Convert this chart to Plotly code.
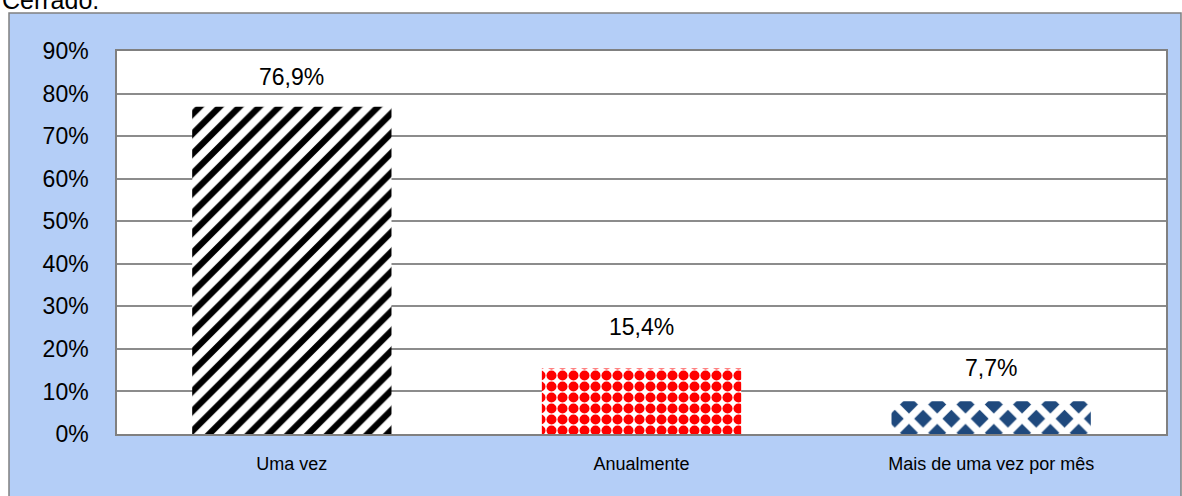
import plotly.graph_objects as go

categories = ["Uma vez", "Anualmente", "Mais de uma vez por mês"]
values = [76.9, 15.4, 7.7]
y_ticks = [0, 10, 20, 30, 40, 50, 60, 70, 80, 90]
y_tick_labels = [f"{t}%" for t in y_ticks]
value_labels = [f"{v:.1f}".replace(".", ",") + "%" for v in values]

# style
label_offsets = [30, 41, 33]  # px above bar top (label centers)
FONT = "Liberation Sans, Arial, sans-serif"

W, H = 1182, 496
L, R, T, B = 117, 16, 51, 62
pw, ph = W - L - R, H - T - B

def px_x(x):
    return (x - L) / pw

def px_y(y):
    return (H - B - y) / ph

fig = go.Figure()

patterns = [
    dict(shape="/", fgcolor="black", bgcolor="white", size=14, solidity=0.45, fgopacity=1, fillmode="replace"),
    dict(shape=".", fgcolor="#FF0000", bgcolor="white", size=11, solidity=0.65, fgopacity=1, fillmode="replace"),
    dict(shape="x", fgcolor="white", bgcolor="#1F497D", size=20, solidity=0.6, fgopacity=1, fillmode="replace"),
]

for i, (c, v) in enumerate(zip(categories, values)):
    fig.add_trace(go.Bar(
        x=[c], y=[v],
        marker=dict(color="white", pattern=patterns[i], line=dict(width=0)),
        width=0.57,
        showlegend=False,
        hoverinfo="skip",
    ))

for c, v, t, off in zip(categories, values, value_labels, label_offsets):
    fig.add_annotation(x=c, y=v, xref="x", yref="y", text=t, showarrow=False,
                       yanchor="middle", yshift=off,
                       font=dict(family=FONT, size=23, color="black"))

# Cut-off caption at top (as in the reference)
fig.add_annotation(x=px_x(0), y=px_y(16), xref="paper", yref="paper", text="Cerrado.",
                   showarrow=False, xanchor="left", yanchor="bottom",
                   font=dict(family=FONT, size=25, color="black"))

# outer chart area (light blue frame)
fig.add_shape(type="rect", xref="paper", yref="paper",
              x0=px_x(9), x1=px_x(1181), y0=px_y(500), y1=px_y(13),
              fillcolor="#B4CEF7", line=dict(color="#808080", width=1.5), layer="below")
# white plot area
fig.add_shape(type="rect", xref="paper", yref="paper",
              x0=0, x1=1, y0=0, y1=1,
              fillcolor="white", line=dict(width=0), layer="below")

fig.update_layout(
    width=W, height=H,
    margin=dict(l=L, r=R, t=T, b=B),
    paper_bgcolor="white",
    plot_bgcolor="white",
    bargap=0.43,
    font=dict(family=FONT, color="black"),
)
fig.update_xaxes(
    showgrid=False, showline=True, linecolor="#808080", linewidth=1.5, mirror=True,
    tickfont=dict(size=18, family=FONT, color="black"), ticks="", ticklabelstandoff=13,
)
fig.update_yaxes(
    range=[0, 90], tickvals=y_ticks, ticktext=y_tick_labels,
    showgrid=True, gridcolor="#8C8C8C", gridwidth=1.5,
    showline=True, linecolor="#808080", linewidth=1.5, mirror=True,
    tickfont=dict(size=23, family=FONT, color="black"), ticks="", ticklabelstandoff=22,
    zeroline=False,
)

fig.write_html("out.html", config={"displayModeBar": False},
               post_script="document.body.style.margin='0';")
